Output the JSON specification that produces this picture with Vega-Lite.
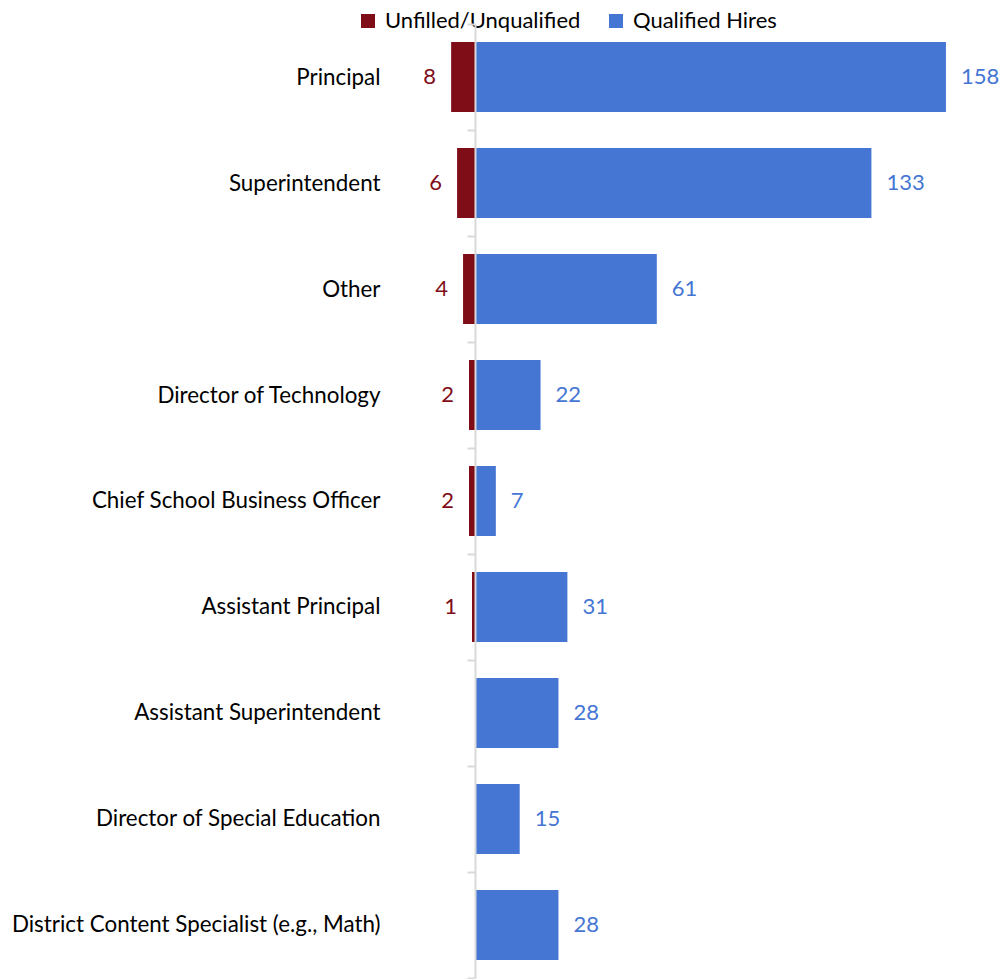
{
  "$schema": "https://vega.github.io/schema/vega-lite/v6.json",
  "width": 620,
  "height": 954,
  "autosize": {"type": "none"},
  "padding": {"left": 379.6, "top": 24, "right": 0, "bottom": 1},
  "config": {"view": {"stroke": null}, "font": "Lato"},
  "data": {
    "values": [
      {"category": "Principal", "series": "Unfilled/Unqualified", "count": 8},
      {"category": "Principal", "series": "Qualified Hires", "count": 158},
      {"category": "Superintendent", "series": "Unfilled/Unqualified", "count": 6},
      {"category": "Superintendent", "series": "Qualified Hires", "count": 133},
      {"category": "Other", "series": "Unfilled/Unqualified", "count": 4},
      {"category": "Other", "series": "Qualified Hires", "count": 61},
      {"category": "Director of Technology", "series": "Unfilled/Unqualified", "count": 2},
      {"category": "Director of Technology", "series": "Qualified Hires", "count": 22},
      {"category": "Chief School Business Officer", "series": "Unfilled/Unqualified", "count": 2},
      {"category": "Chief School Business Officer", "series": "Qualified Hires", "count": 7},
      {"category": "Assistant Principal", "series": "Unfilled/Unqualified", "count": 1},
      {"category": "Assistant Principal", "series": "Qualified Hires", "count": 31},
      {"category": "Assistant Superintendent", "series": "Qualified Hires", "count": 28},
      {"category": "Director of Special Education", "series": "Qualified Hires", "count": 15},
      {"category": "District Content Specialist (e.g., Math)", "series": "Qualified Hires", "count": 28}
    ]
  },
  "transform": [
    {"calculate": "datum.series === 'Unfilled/Unqualified' ? -datum.count : datum.count", "as": "signed"}
  ],
  "encoding": {
    "y": {
      "field": "category",
      "type": "nominal",
      "sort": ["Principal", "Superintendent", "Other", "Director of Technology", "Chief School Business Officer", "Assistant Principal", "Assistant Superintendent", "Director of Special Education", "District Content Specialist (e.g., Math)"],
      "scale": {"paddingInner": 0, "paddingOuter": 0},
      "axis": {
        "title": null,
        "offset": -95.4,
        "zindex": 1,
        "domainColor": "#D9D9D9",
        "domainWidth": 2,
        "tickColor": "#D9D9D9",
        "tickWidth": 2,
        "tickSize": 8,
        "tickBand": "extent",
        "labelPadding": 87,
        "labelFontSize": 22.4,
        "labelColor": "#000000",
        "labelLimit": 600
      }
    }
  },
  "layer": [
    {
      "mark": {"type": "bar", "height": {"band": 0.66}},
      "encoding": {
        "x": {"field": "signed", "type": "quantitative", "stack": null, "scale": {"domain": [-32, 176], "nice": false, "zero": false}, "axis": null},
        "color": {
          "field": "series",
          "type": "nominal",
          "scale": {"domain": ["Unfilled/Unqualified", "Qualified Hires"], "range": ["#7F0D18", "#4576D4"]},
          "legend": {
            "orient": "none",
            "legendX": -22.6,
            "legendY": -14,
            "direction": "horizontal",
            "title": null,
            "padding": 0,
            "symbolType": "square",
            "symbolSize": 196,
            "symbolStrokeWidth": 0,
            "symbolOpacity": 1,
            "labelFontSize": 22,
            "labelColor": "#000000",
            "labelOffset": 6,
            "columnPadding": 24,
            "labelLimit": 400
          }
        }
      }
    },
    {
      "transform": [{"filter": "datum.signed > 0"}],
      "mark": {"type": "text", "align": "left", "baseline": "middle", "dx": 15, "fontSize": 22, "color": "#4576D4"},
      "encoding": {
        "x": {"field": "signed", "type": "quantitative"},
        "text": {"field": "count", "type": "quantitative"}
      }
    },
    {
      "transform": [{"filter": "datum.signed < 0"}],
      "mark": {"type": "text", "align": "right", "baseline": "middle", "dx": -15, "fontSize": 22, "color": "#7F0D18"},
      "encoding": {
        "x": {"field": "signed", "type": "quantitative"},
        "text": {"field": "count", "type": "quantitative"}
      }
    }
  ]
}
